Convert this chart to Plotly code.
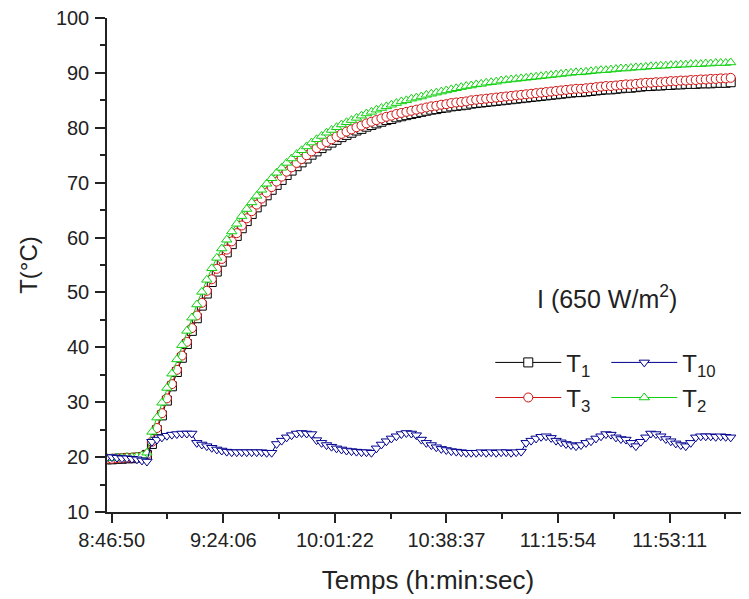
import plotly.graph_objects as go

# ---------------- data ----------------
START_TIME = "8:45:16"      # first sample
STEP_SECONDS = 100          # sampling interval

T1 = [19.6, 19.6, 19.7, 19.7, 19.8, 19.8, 19.9, 20.0, 20.4, 22.4,
      24.9, 27.6, 30.3, 32.9, 35.5, 38.1, 40.6, 43.0, 45.3, 47.6,
      49.8, 51.9, 53.8, 55.6, 57.3, 58.8, 60.3, 61.7, 63.0, 64.3,
      65.5, 66.6, 67.7, 68.7, 69.6, 70.5, 71.4, 72.2, 73.0, 73.7,
      74.4, 75.1, 75.7, 76.3, 76.8, 77.3, 77.8, 78.3, 78.7, 79.1,
      79.5, 79.8, 80.2, 80.5, 80.8, 81.1, 81.4, 81.6, 81.9, 82.1,
      82.3, 82.5, 82.7, 82.9, 83.1, 83.3, 83.4, 83.6, 83.7, 83.9,
      84.0, 84.1, 84.2, 84.4, 84.5, 84.6, 84.7, 84.8, 84.9, 85.0,
      85.1, 85.2, 85.3, 85.4, 85.5, 85.6, 85.7, 85.8, 85.9, 86.0,
      86.1, 86.2, 86.3, 86.4, 86.5, 86.5, 86.6, 86.7, 86.8, 86.9,
      87.0, 87.0, 87.1, 87.2, 87.3, 87.3, 87.4, 87.5, 87.6, 87.6,
      87.7, 87.7, 87.8, 87.8, 87.9, 87.9, 88.0, 88.0, 88.0, 88.1,
      88.1, 88.1, 88.2, 88.2, 88.2, 88.3]

T3 = [19.7, 19.7, 19.8, 19.8, 19.9, 19.9, 20.0, 20.1, 20.5, 22.8,
      25.3, 28.0, 30.7, 33.3, 35.9, 38.5, 41.0, 43.5, 45.8, 48.1,
      50.3, 52.4, 54.3, 56.1, 57.8, 59.3, 60.8, 62.2, 63.5, 64.8,
      66.0, 67.1, 68.2, 69.2, 70.2, 71.1, 72.0, 72.8, 73.6, 74.3,
      75.0, 75.7, 76.3, 76.9, 77.4, 77.9, 78.4, 78.9, 79.3, 79.7,
      80.1, 80.4, 80.8, 81.1, 81.4, 81.7, 82.0, 82.2, 82.5, 82.7,
      82.9, 83.1, 83.3, 83.5, 83.7, 83.9, 84.0, 84.2, 84.3, 84.5,
      84.6, 84.7, 84.8, 85.0, 85.1, 85.2, 85.3, 85.4, 85.5, 85.6,
      85.7, 85.8, 85.9, 86.0, 86.1, 86.2, 86.3, 86.4, 86.5, 86.6,
      86.7, 86.8, 86.9, 87.0, 87.1, 87.1, 87.2, 87.3, 87.4, 87.5,
      87.6, 87.6, 87.7, 87.8, 87.9, 87.9, 88.0, 88.1, 88.2, 88.2,
      88.3, 88.3, 88.4, 88.5, 88.5, 88.6, 88.6, 88.7, 88.7, 88.8,
      88.8, 88.9, 88.9, 89.0, 89.0, 89.1]

T2 = [19.8, 19.8, 19.9, 19.9, 20.0, 20.0, 20.1, 20.3, 20.8, 24.6,
      27.2, 29.9, 32.6, 35.2, 37.8, 40.4, 43.0, 45.4, 47.8, 50.1,
      52.3, 54.4, 56.3, 58.0, 59.6, 61.1, 62.5, 63.9, 65.2, 66.4,
      67.6, 68.7, 69.8, 70.8, 71.8, 72.7, 73.6, 74.4, 75.2, 75.9,
      76.6, 77.3, 77.9, 78.5, 79.1, 79.6, 80.1, 80.6, 81.0, 81.4,
      81.8, 82.2, 82.6, 82.9, 83.3, 83.6, 83.9, 84.2, 84.5, 84.8,
      85.0, 85.3, 85.5, 85.7, 86.0, 86.2, 86.4, 86.6, 86.8, 87.0,
      87.2, 87.4, 87.6, 87.7, 87.9, 88.0, 88.2, 88.3, 88.4, 88.6,
      88.7, 88.8, 88.9, 89.0, 89.1, 89.2, 89.3, 89.4, 89.5, 89.6,
      89.7, 89.8, 89.9, 90.0, 90.1, 90.1, 90.2, 90.3, 90.4, 90.5,
      90.5, 90.6, 90.7, 90.8, 90.8, 90.9, 91.0, 91.0, 91.1, 91.2,
      91.2, 91.3, 91.3, 91.4, 91.4, 91.5, 91.5, 91.6, 91.6, 91.6,
      91.7, 91.7, 91.8, 91.8, 91.8, 91.9]

T10 = [20.0, 20.0, 19.9, 19.8, 19.8, 19.7, 19.6, 19.4, 19.2,
       22.8, 23.2, 23.6, 23.9, 24.1, 24.2, 24.3, 24.3, 24.3,
       22.6, 22.3, 22.0, 21.7, 21.4, 21.2, 21.0, 20.9, 20.9, 20.9, 20.9, 20.9, 20.9, 20.9, 20.8, 20.8,
       22.4, 23.0, 23.6, 24.0, 24.3, 24.4, 24.3, 24.2,
       23.1, 22.6, 22.2, 21.9, 21.6, 21.4, 21.2, 21.1, 21.0, 20.9, 20.9, 20.8,
       21.6, 22.3, 22.9, 23.4, 23.8, 24.2, 24.4, 24.3, 24.0,
       23.2, 22.6, 22.2, 21.8, 21.5, 21.3, 21.1, 21.0, 20.9, 20.8, 20.8, 20.8, 20.9, 20.8, 20.9, 20.8,
       20.9, 20.9, 20.8, 20.9, 21.0,
       22.6, 23.0, 23.4, 23.7, 23.8, 23.5, 23.0, 22.7, 22.4, 22.2, 22.0,
       22.2, 22.6, 22.9, 23.4, 23.8, 24.2, 24.1, 23.6, 23.3, 23.2, 22.6, 22.0,
       22.8, 23.6, 24.3, 24.2, 23.8, 23.3, 22.9, 22.5, 22.2, 22.0,
       22.6, 23.6, 23.8, 23.8, 23.8, 23.7, 23.8, 23.7, 23.6]

TICK_LABELS = ["8:46:50", "9:24:06", "10:01:22", "10:38:37", "11:15:54", "11:53:11"]
X_RANGE_LABELS = ["8:45:16", "12:19:43"]
Y_TICKS = [10, 20, 30, 40, 50, 60, 70, 80, 90, 100]


def to_sec(s):
    h, m, sec = (int(v) for v in s.split(":"))
    return h * 3600 + m * 60 + sec


t0 = to_sec(START_TIME)
times = [t0 + STEP_SECONDS * i for i in range(len(T2))]
tick_vals = [to_sec(s) for s in TICK_LABELS]
minor_vals = [(a + b) / 2 for a, b in zip(tick_vals[:-1], tick_vals[1:])]
minor_vals.append(tick_vals[-1] + (tick_vals[1] - tick_vals[0]) / 2)

FONT = "Liberation Sans, Arial, sans-serif"
TXT = "#222222"

fig = go.Figure()


def add(name, y, color, symbol, legend):
    fig.add_trace(go.Scatter(
        x=times, y=y, name=name, mode="lines+markers",
        line=dict(color=color, width=1),
        marker=dict(symbol=symbol, size=9, color="white",
                    line=dict(color=color, width=1)),
        legend=legend,
    ))


add("T<sub>1</sub>", T1, "#000000", "square", "legend")
add("T<sub>3</sub>", T3, "#d01010", "circle", "legend2")
add("T<sub>2</sub>", T2, "#10d010", "triangle-up", "legend2")
add("T<sub>10</sub>", T10, "#000090", "triangle-down", "legend")

leg_common = dict(orientation="h", xanchor="left", yanchor="middle",
                  bgcolor="rgba(0,0,0,0)", font=dict(family=FONT, size=24, color=TXT),
                  entrywidth=35, entrywidthmode="pixels", itemwidth=66,
                  traceorder="normal")

# the page body adds an 8 px offset, so the figure is 8 px smaller
fig.update_layout(
    width=741, height=591,
    margin=dict(l=99, r=0, t=10, b=87, autoexpand=False),
    paper_bgcolor="white", plot_bgcolor="white",
    font=dict(family=FONT, color=TXT),
    legend=dict(x=0.597, y=0.302, **leg_common),
    legend2=dict(x=0.597, y=0.231, **leg_common),
    xaxis=dict(
        range=[to_sec(X_RANGE_LABELS[0]), to_sec(X_RANGE_LABELS[1])],
        tickmode="array", tickvals=tick_vals, ticktext=TICK_LABELS,
        ticks="outside", ticklen=9, tickwidth=1.5, tickcolor=TXT,
        showline=True, linecolor=TXT, linewidth=1.5, showgrid=False, zeroline=False,
        tickfont=dict(size=20, color=TXT), automargin=False, ticklabeloverflow="allow",
        minor=dict(tickmode="array", tickvals=minor_vals, ticks="outside",
                   ticklen=5, tickwidth=1.5, tickcolor=TXT, showgrid=False),
        title=dict(text="Temps (h:min:sec)", font=dict(size=26, color=TXT), standoff=21),
    ),
    yaxis=dict(
        range=[10, 100], tickmode="array", tickvals=Y_TICKS,
        ticks="outside", ticklen=10, tickwidth=1.5, tickcolor=TXT,
        showline=True, linecolor=TXT, linewidth=1.5, showgrid=False, zeroline=False,
        tickfont=dict(size=20, color=TXT), ticklabelstandoff=2, automargin=False,
        ticklabeloverflow="allow",
        minor=dict(dtick=5, ticks="outside", ticklen=5, tickwidth=1.5,
                   tickcolor=TXT, showgrid=False),
        title=dict(text="T(°C)", font=dict(size=24, color=TXT), standoff=11),
    ),
    annotations=[dict(
        text="I (650 W/m<sup>2</sup>)", x=0.779, y=0.435, xref="paper", yref="paper",
        showarrow=False, font=dict(family=FONT, size=25, color=TXT),
        xanchor="center", yanchor="middle",
    )],
)

fig.write_html("out.html")
